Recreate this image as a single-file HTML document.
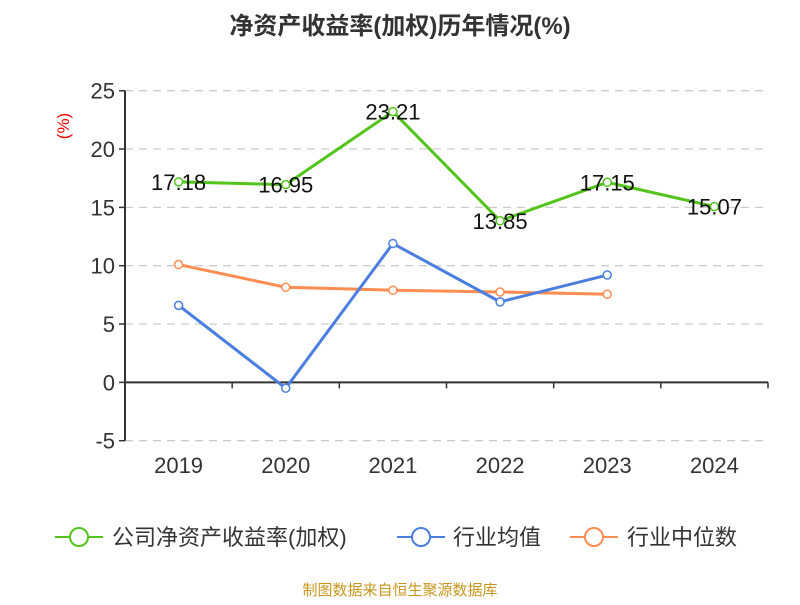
<!DOCTYPE html>
<html><head><meta charset="utf-8"><style>
body{margin:0;background:#fff;}
svg text{font-family:"Liberation Sans","Noto Sans CJK SC",sans-serif;}
</style></head><body>
<svg width="800" height="600" xmlns="http://www.w3.org/2000/svg">
<text x="400" y="34" text-anchor="middle" font-size="24" font-weight="bold" fill="#333">净资产收益率(加权)历年情况(%)</text>
<text transform="translate(69,126) rotate(-90)" text-anchor="middle" font-size="17" fill="#e00">(%)</text>
<g id="grid"></g><g id="axes"></g><g id="series"></g>
<g>
<g><line x1="55" y1="537" x2="103" y2="537" stroke="#52c41a" stroke-width="2"/><circle cx="79" cy="537" r="9" fill="#fff" stroke="#52c41a" stroke-width="2"/><text x="112" y="545" font-size="22" fill="#333">公司净资产收益率(加权)</text></g>
<g><line x1="397" y1="537" x2="445" y2="537" stroke="#4a7fe0" stroke-width="2"/><circle cx="421" cy="537" r="9" fill="#fff" stroke="#4a7fe0" stroke-width="2"/><text x="453" y="545" font-size="22" fill="#333">行业均值</text></g>
<g><line x1="570" y1="537" x2="618" y2="537" stroke="#ff8c50" stroke-width="2"/><circle cx="594" cy="537" r="9" fill="#fff" stroke="#ff8c50" stroke-width="2"/><text x="627" y="545" font-size="22" fill="#333">行业中位数</text></g>
</g>
<text x="400" y="595" text-anchor="middle" font-size="15" fill="#c8961e">制图数据来自恒生聚源数据库</text>
</svg>
<script>
const categories=["2019","2020","2021","2022","2023","2024"];
const companyValues=[17.18,16.95,23.21,13.85,17.15,15.07];
const industryAvg=[6.6,-0.5,11.9,6.9,9.2];
const industryMedian=[10.1,8.15,7.9,7.75,7.55];
const yTicks=[-5,0,5,10,15,20,25];
const NS="http://www.w3.org/2000/svg";
const L=125,R=768,T=90.7,B=440.7,yMin=-5,yMax=25;
const y=v=>B-(v-yMin)/(yMax-yMin)*(B-T);
const bw=(R-L)/categories.length;
const x=i=>L+bw*(i+0.5);
function mk(tag,attrs,parent){const e=document.createElementNS(NS,tag);for(const k in attrs)e.setAttribute(k,attrs[k]);parent.appendChild(e);return e;}
const grid=document.getElementById('grid'),axes=document.getElementById('axes'),series=document.getElementById('series');
yTicks.forEach(t=>{
 if(t!==0){const g=mk('line',{x1:L,x2:R,y1:y(t),y2:y(t),stroke:'#ccc','stroke-dasharray':'8,6','stroke-width':1.3},grid);
 }
 mk('line',{x1:L-6,x2:L,y1:y(t),y2:y(t),stroke:'#333','stroke-width':1.5},axes);
 const tx=mk('text',{x:L-10,y:y(t)+8,'text-anchor':'end','font-size':22,fill:'#333'},axes);tx.textContent=t;
 
});
const ya=mk('line',{x1:L,x2:L,y1:T,y2:B,stroke:'#333','stroke-width':2},axes);

const xa=mk('line',{x1:L,x2:R,y1:y(0),y2:y(0),stroke:'#333','stroke-width':2},axes);

categories.forEach((c,i)=>{
 mk('line',{x1:L+bw*(i+1),x2:L+bw*(i+1),y1:y(0),y2:y(0)+6,stroke:'#333','stroke-width':1.5},axes);
 const tx=mk('text',{x:x(i),y:473,'text-anchor':'middle','font-size':22,fill:'#333'},axes);tx.textContent=c;
 
});
function draw(vals,color,name,labels){
 const g=mk('g',{},series);
 mk('polyline',{points:vals.map((v,i)=>x(i)+','+y(v)).join(' '),fill:'none',stroke:color,'stroke-width':3},g);
 vals.forEach((v,i)=>{
  const c=mk('circle',{cx:x(i),cy:y(v),r:4,fill:'#fff',stroke:color,'stroke-width':1.5},g);
  
  if(labels){const t=mk('text',{x:x(i),y:y(v)+8,'text-anchor':'middle','font-size':22,fill:'#111'},g);t.textContent=v.toFixed(2);
  }
 });
}
draw(industryMedian,'#ff8c50','industry-median-line',false);
draw(industryAvg,'#4a7fe0','industry-avg-line',false);
draw(companyValues,'#52c41a','company-roe-line',true);
</script>
</body></html>
